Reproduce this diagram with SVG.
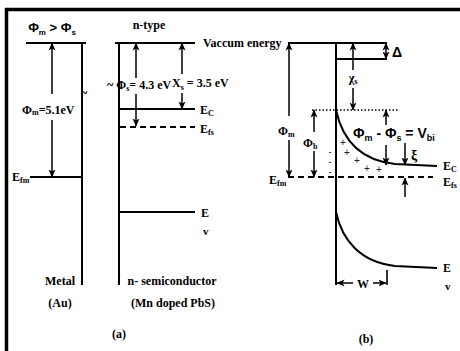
<svg xmlns="http://www.w3.org/2000/svg" width="460" height="351" viewBox="0 0 460 351">
<style>
text{font-family:"Liberation Serif","Times New Roman",serif;font-weight:bold;fill:#000}
.t12{font-size:12px}
.t11{font-size:11px}
.t14{font-size:14px}
.sans{font-family:"Liberation Sans",Arial,sans-serif}
.lv{stroke:#000;stroke-width:2;fill:none}
.ln{stroke:#000;stroke-width:1.6;fill:none}
.ar{stroke:#000;stroke-width:1.5;fill:none;marker-end:url(#ah)}
.ds{stroke:#000;stroke-width:2;stroke-dasharray:6,4;fill:none}
.dt{stroke:#000;stroke-width:1.6;stroke-dasharray:1.5,2;fill:none}
.pm{font-family:"Liberation Sans",Arial,sans-serif;font-weight:normal;font-size:10px;fill:#222}
.mn{font-family:"Liberation Sans",Arial,sans-serif;font-weight:bold;font-size:8px;fill:#222}
</style>
<defs>
<marker id="ah" markerUnits="userSpaceOnUse" markerWidth="8" markerHeight="8" viewBox="0 0 8 8" refX="7.5" refY="4" orient="auto">
<path d="M0,0.5 L8,4 L0,7.5 L2,4 Z" fill="#000"/>
</marker>
</defs>
<rect width="460" height="351" fill="#fff"/>
<g id="frame">
<line x1="5" y1="9.5" x2="460" y2="9.5" stroke="#000" stroke-width="3.5"/>
<line x1="6.5" y1="8" x2="6.5" y2="351" stroke="#000" stroke-width="3.5"/>
</g>

<!-- Part (a) -->
<g id="metal">
<text class="sans" x="52" y="32" font-size="13" text-anchor="middle">Φ<tspan font-size="8" dy="3">m</tspan><tspan dy="-3"> &gt; Φ</tspan><tspan font-size="8" dy="3">s</tspan></text>
<line class="lv" x1="26" y1="43" x2="86" y2="43"/>
<line class="lv" x1="82" y1="43" x2="82" y2="285"/>
<line class="lv" x1="30" y1="177" x2="82" y2="177"/>
<text class="t12" x="12" y="181">E<tspan font-size="8" dy="2">fm</tspan></text>
<text class="t12" x="84" y="97" text-anchor="middle">~</text>
<text class="t12" x="60" y="285" text-anchor="middle">Metal</text>
<text class="t12" x="60" y="307" text-anchor="middle">(Au)</text>
</g>
<g id="semiconductor">
<text class="t12" x="149" y="29" text-anchor="middle">n-type</text>
<line class="lv" x1="115" y1="43" x2="195" y2="43"/>
<line class="lv" x1="119" y1="43" x2="119" y2="285"/>
<line class="lv" x1="119" y1="109" x2="195" y2="109"/>
<line class="ds" x1="120" y1="127" x2="195" y2="127"/>
<line class="lv" x1="119" y1="212" x2="195" y2="212"/>
<text class="t12" x="203" y="47">Vaccum energy</text>
<text class="t12" x="200" y="114">E<tspan font-size="8" dy="2">C</tspan></text>
<text class="t12" x="200" y="133">E<tspan font-size="8" dy="2">fs</tspan></text>
<text class="t12" x="201" y="217">E</text>
<text class="t11" x="203" y="235" font-weight="normal">v</text>
<text class="t12" x="172" y="285" text-anchor="middle">n- semiconductor</text>
<text class="t12" x="173" y="307" text-anchor="middle">(Mn doped PbS)</text>
<text class="t12" x="119" y="338" text-anchor="middle">(a)</text>
</g>
<g id="labels-a">
<text class="t12" x="22" y="114">Φ<tspan font-size="8" dy="1">m</tspan><tspan dy="-1">=5.1eV</tspan></text>
<text class="t12" x="107" y="89">~ Φ<tspan font-size="8" dy="2">s</tspan><tspan dy="-2">= 4.3 eV</tspan></text>
<text class="t12" x="172" y="87">X<tspan font-size="8" dy="3">s</tspan><tspan dy="-3"> = 3.5 eV</tspan></text>
</g>

<!-- Part (b) -->
<g id="junction">
<line class="lv" x1="288" y1="43" x2="387" y2="43"/>
<line class="lv" x1="336" y1="43" x2="336" y2="285"/>
<line class="lv" x1="336" y1="59" x2="387" y2="59"/>
<line class="dt" x1="312" y1="110" x2="398" y2="110"/>
<path class="lv" d="M336,110 C342,138 358,160 395,164 L437,166"/>
<line class="ds" x1="288" y1="177" x2="433" y2="177"/>
<path class="lv" d="M336,212 C342,240 360,262 395,266 L437,268"/>
<line class="ln" x1="387" y1="270" x2="387" y2="285"/>
<text class="t14 sans" x="392" y="57" font-weight="normal">Δ</text>
<text class="t12" x="353" y="82" text-anchor="middle">χ<tspan font-size="8" dy="2">s</tspan></text>
<text class="t12" x="278" y="135">Φ<tspan font-size="8" dy="2">m</tspan></text>
<text class="t12" x="303" y="147">Φ<tspan font-size="8" dy="2">b</tspan></text>
<text class="t14 sans" x="353" y="138">Φ<tspan font-size="9" dy="3">m</tspan><tspan dy="-3"> - Φ</tspan><tspan font-size="9" dy="3">s</tspan><tspan dy="-3"> = V</tspan><tspan font-size="9" dy="3">bi</tspan></text>
<text class="t14" x="411" y="160">ξ</text>
<text class="t12" x="443" y="170">E<tspan font-size="8" dy="2">C</tspan></text>
<text class="t12" x="443" y="186">E<tspan font-size="8" dy="2">fs</tspan></text>
<text class="t12" x="269" y="184">E<tspan font-size="8" dy="2">fm</tspan></text>
<text class="t12" x="443" y="272">E</text>
<text class="t11" x="445" y="290" font-weight="normal">v</text>
<text class="t12" x="363" y="288" text-anchor="middle">W</text>
<text class="t12" x="366" y="343" text-anchor="middle">(b)</text>
</g>
<g id="charges">
<text class="mn" x="330" y="154" text-anchor="middle">-</text>
<text class="mn" x="330" y="164" text-anchor="middle">-</text>
<text class="mn" x="330" y="174" text-anchor="middle">-</text>
<text class="pm" x="343" y="146" text-anchor="middle">+</text>
<text class="pm" x="347" y="156" text-anchor="middle">+</text>
<text class="pm" x="357" y="164" text-anchor="middle">+</text>
<text class="pm" x="367" y="172" text-anchor="middle">+</text>
<text class="pm" x="379" y="173" text-anchor="middle">+</text>
</g>

<g id="connectors">
<line class="ar" x1="52" y1="94" x2="52" y2="43"/>
<line class="ar" x1="52" y1="120" x2="52" y2="177"/>
<line class="ar" x1="136" y1="78" x2="136" y2="43"/>
<line class="ar" x1="136" y1="94" x2="136" y2="126"/>
<line class="ar" x1="182" y1="74" x2="182" y2="43"/>
<line class="ar" x1="182" y1="93" x2="182" y2="109"/>
<line class="ar" x1="289" y1="116" x2="289" y2="43"/>
<line class="ar" x1="289" y1="140" x2="289" y2="177"/>
<line class="ar" x1="386" y1="51" x2="386" y2="43"/>
<line class="ar" x1="386" y1="51" x2="386" y2="59"/>
<line class="ar" x1="353" y1="70" x2="353" y2="43"/>
<line class="ar" x1="353" y1="88" x2="353" y2="110"/>
<line class="ar" x1="314" y1="132" x2="314" y2="110"/>
<line class="ar" x1="314" y1="151" x2="314" y2="177"/>
<line class="ar" x1="386" y1="125" x2="386" y2="110"/>
<line class="ar" x1="386" y1="145" x2="386" y2="165"/>
<line class="ar" x1="405" y1="143" x2="405" y2="165"/>
<line class="ar" x1="405" y1="197" x2="405" y2="178"/>
<line class="ar" x1="353" y1="283" x2="337" y2="283"/>
<line class="ar" x1="373" y1="283" x2="386" y2="283"/>
</g>
</svg>
